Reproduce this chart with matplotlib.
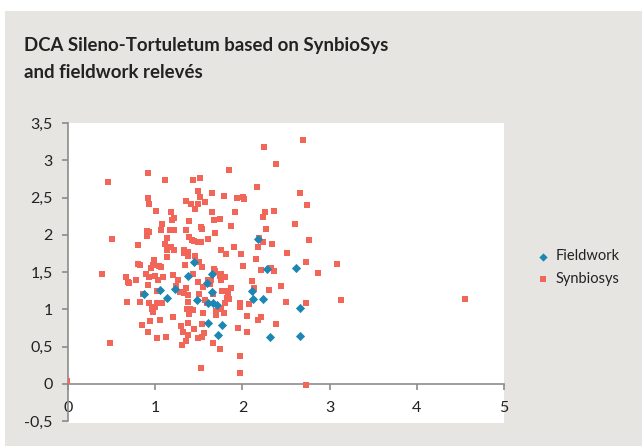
import matplotlib
matplotlib.use("Agg")
import matplotlib.pyplot as plt
from matplotlib.patches import Rectangle
from matplotlib.ticker import FuncFormatter, MultipleLocator

# DCA axis scores (axis 1, axis 2)
synbiosys_x = [
    0.92, 0.46, 1.11, 0.92, 0.93, 1.01, 1.35, 1.41, 1.18, 1.21, 1.19, 1.08, 1.39, 0.91, 0.93,
    1.07, 1.17, 1.21, 1.35, 0.91, 0.51, 1.13, 1.39, 0.80, 1.11, 1.18, 1.13, 1.21, 1.33, 1.33,
    1.38, 1.38, 1.13, 0.99, 0.80, 0.83, 0.97, 1.04, 1.07, 1.34, 0.95, 0.39, 0.66, 0.69, 0.70,
    0.78, 0.90, 0.93, 1.00, 1.03, 1.09, 1.20, 1.26, 1.24, 0.92, 0.86, 1.02, 1.28, 1.33, 1.35,
    1.38, 0.68, 0.83, 0.93, 1.02, 1.08, 1.38, 1.00, 0.96, 0.97, 1.36, 1.39, 1.20, 1.05, 0.94,
    1.38, 0.85, 1.30, 0.92, 1.32, 1.38, 1.02, 1.12, 1.35, 1.31, 0.48, -0.01, 1.50, 1.54, 1.67,
    1.69, 2.01, 2.21, 2.33, 2.36, 2.73, 2.87, 1.43, 1.49, 1.60, 1.62, 1.63, 1.64, 1.74, 1.76,
    1.80, 1.76, 2.11, 1.55, 1.50, 1.66, 1.77, 1.81, 1.84, 1.87, 2.13, 2.30, 2.44, 1.57, 1.59,
    1.82, 1.85, 1.80, 1.97, 1.97, 2.07, 2.50, 2.73, 1.40, 1.43, 1.55, 1.70, 1.76, 1.79, 1.70,
    2.05, 2.18, 2.21, 2.39, 1.54, 1.44, 1.95, 2.05, 1.56, 1.54, 1.49, 1.66, 1.74, 1.97, 1.53,
    1.97, 2.73, 2.25, 2.69, 2.39, 1.85, 1.43, 1.51, 2.17, 1.49, 1.65, 1.79, 1.94, 2.01, 2.02,
    2.66, 2.74, 1.49, 1.51, 1.57, 1.46, 1.65, 1.91, 2.26, 2.24, 2.36, 1.67, 1.74, 1.87, 1.53,
    1.54, 2.60, 1.69, 2.27, 1.42, 1.44, 1.49, 1.52, 1.61, 2.19, 2.18, 2.24, 2.34, 2.76, 1.90,
    1.76, 1.81, 1.98, 2.51, 2.16, 1.46, 3.08, 3.13, 4.55,
]
synbiosys_y = [
    2.83, 2.71, 2.73, 2.50, 2.41, 2.32, 2.45, 2.41, 2.30, 2.23, 2.20, 2.15, 2.18, 2.05, 2.04,
    2.06, 2.06, 2.06, 2.07, 1.98, 1.94, 1.96, 1.97, 1.86, 1.88, 1.84, 1.80, 1.79, 1.80, 1.75,
    1.77, 1.71, 1.70, 1.66, 1.61, 1.60, 1.59, 1.58, 1.57, 1.59, 1.55, 1.47, 1.44, 1.37, 1.35,
    1.39, 1.47, 1.43, 1.45, 1.39, 1.43, 1.46, 1.39, 1.31, 1.32, 1.20, 1.24, 1.23, 1.22, 1.28,
    1.19, 1.10, 1.10, 1.08, 1.09, 1.09, 1.10, 1.03, 1.00, 0.96, 1.00, 0.94, 0.90, 0.86, 0.84,
    0.82, 0.79, 0.77, 0.70, 0.70, 0.66, 0.62, 0.63, 0.58, 0.52, 0.55, 0.04, 1.64, 1.57, 1.54,
    1.51, 1.58, 1.53, 1.56, 1.51, 1.63, 1.49, 1.47, 1.37, 1.39, 1.36, 1.34, 1.40, 1.45, 1.47,
    1.43, 1.39, 1.38, 1.30, 1.21, 1.20, 1.24, 1.25, 1.22, 1.29, 1.29, 1.26, 1.31, 1.12, 1.09,
    1.15, 1.14, 1.08, 1.08, 1.03, 1.07, 1.10, 1.09, 1.00, 0.99, 0.95, 0.98, 1.01, 0.95, 0.92,
    0.91, 0.86, 0.90, 0.80, 0.80, 0.74, 0.75, 0.70, 0.68, 0.63, 0.61, 0.55, 0.47, 0.38, 0.21,
    0.15, -0.01, 3.18, 3.27, 2.95, 2.87, 2.73, 2.76, 2.64, 2.59, 2.56, 2.52, 2.50, 2.51, 2.48,
    2.56, 2.40, 2.41, 2.51, 2.44, 2.34, 2.31, 2.30, 2.30, 2.24, 2.32, 2.20, 2.21, 2.12, 2.11,
    2.08, 2.15, 2.02, 2.08, 1.93, 1.92, 1.90, 1.90, 1.94, 1.96, 1.84, 1.90, 1.88, 1.93, 1.84,
    1.79, 1.74, 1.74, 1.76, 1.68, 1.72, 1.61, 1.12, 1.14,
]

fieldwork_x = [0.87, 1.06, 1.13, 1.23, 1.38, 1.45, 1.65, 1.59, 1.65, 1.48, 1.61, 1.66, 1.71,
               2.11, 2.12, 2.24, 2.28, 2.62, 2.66, 1.61, 1.77, 1.72, 2.32, 2.66, 2.18]
fieldwork_y = [1.20, 1.26, 1.15, 1.27, 1.45, 1.63, 1.47, 1.35, 1.23, 1.12, 1.08, 1.08, 1.06,
               1.25, 1.14, 1.14, 1.54, 1.56, 1.02, 0.81, 0.79, 0.65, 0.63, 0.64, 1.95]

title_lines = ["DCA Sileno-Tortuletum based on SynbioSys", "and fieldwork relevés"]

bg = "#e6e5e1"
red = "#f2665a"
blue = "#1d87b4"
axis_grey = "#8c8c8c"
font = "Lato"

plt.rcParams["font.family"] = [font, "DejaVu Sans"]
plt.rcParams["axes.unicode_minus"] = False

fig = plt.figure(figsize=(6.42, 4.46), dpi=100, facecolor="white")
fig.patches.append(Rectangle((5 / 642, 0), 1, 1 - 11 / 446, transform=fig.transFigure,
                             facecolor=bg, edgecolor="none", zorder=-10))

fig.text(24 / 642, 1 - 51 / 446, title_lines[0], fontsize=13.4, fontweight="bold",
         color="#222222", va="baseline")
fig.text(24 / 642, 1 - 78 / 446, title_lines[1], fontsize=13.4, fontweight="bold",
         color="#222222", va="baseline")

ax = fig.add_axes([68 / 642, 23 / 446, 436 / 642, 300 / 446])
ax.set_facecolor("white")

sc_red = ax.scatter(synbiosys_x, synbiosys_y, marker="s", s=18, color=red, linewidths=0,
                    zorder=3, label="Synbiosys")
sc_blue = ax.scatter(fieldwork_x, fieldwork_y, marker="D", s=22, color=blue, linewidths=0,
                     zorder=4, label="Fieldwork")

ax.set_xlim(0, 5)
ax.set_ylim(-0.525, 3.5)
ax.xaxis.set_major_locator(MultipleLocator(1))
ax.yaxis.set_major_locator(MultipleLocator(0.5))
comma = FuncFormatter(lambda v, p: ("%g" % v).replace(".", ","))
ax.xaxis.set_major_formatter(comma)
ax.yaxis.set_major_formatter(comma)

for side in ["top", "right"]:
    ax.spines[side].set_visible(False)
ax.spines["bottom"].set_position(("data", 0))
ax.spines["left"].set_bounds(-0.5, 3.5)
for side in ["bottom", "left"]:
    ax.spines[side].set_color(axis_grey)
    ax.spines[side].set_linewidth(1.2)
    ax.spines[side].set_zorder(2)

ax.tick_params(axis="both", direction="out", length=4, width=1.2, color=axis_grey,
               labelsize=11.5, labelcolor="#222222")
ax.tick_params(axis="y", pad=7)
ax.tick_params(axis="x", pad=8)
ax.set_ylim(-0.525, 3.5)

leg = fig.legend(handles=[sc_blue, sc_red], loc="center left",
                 bbox_to_anchor=(537 / 642, 1 - 267.5 / 446), frameon=False,
                 fontsize=10.5, handlelength=0.8, handletextpad=0.45, borderpad=0,
                 borderaxespad=0, labelspacing=0.55, markerscale=0.9)
for t in leg.get_texts():
    t.set_color("#222222")

fig.savefig("out.png", dpi=100, facecolor=fig.get_facecolor())
